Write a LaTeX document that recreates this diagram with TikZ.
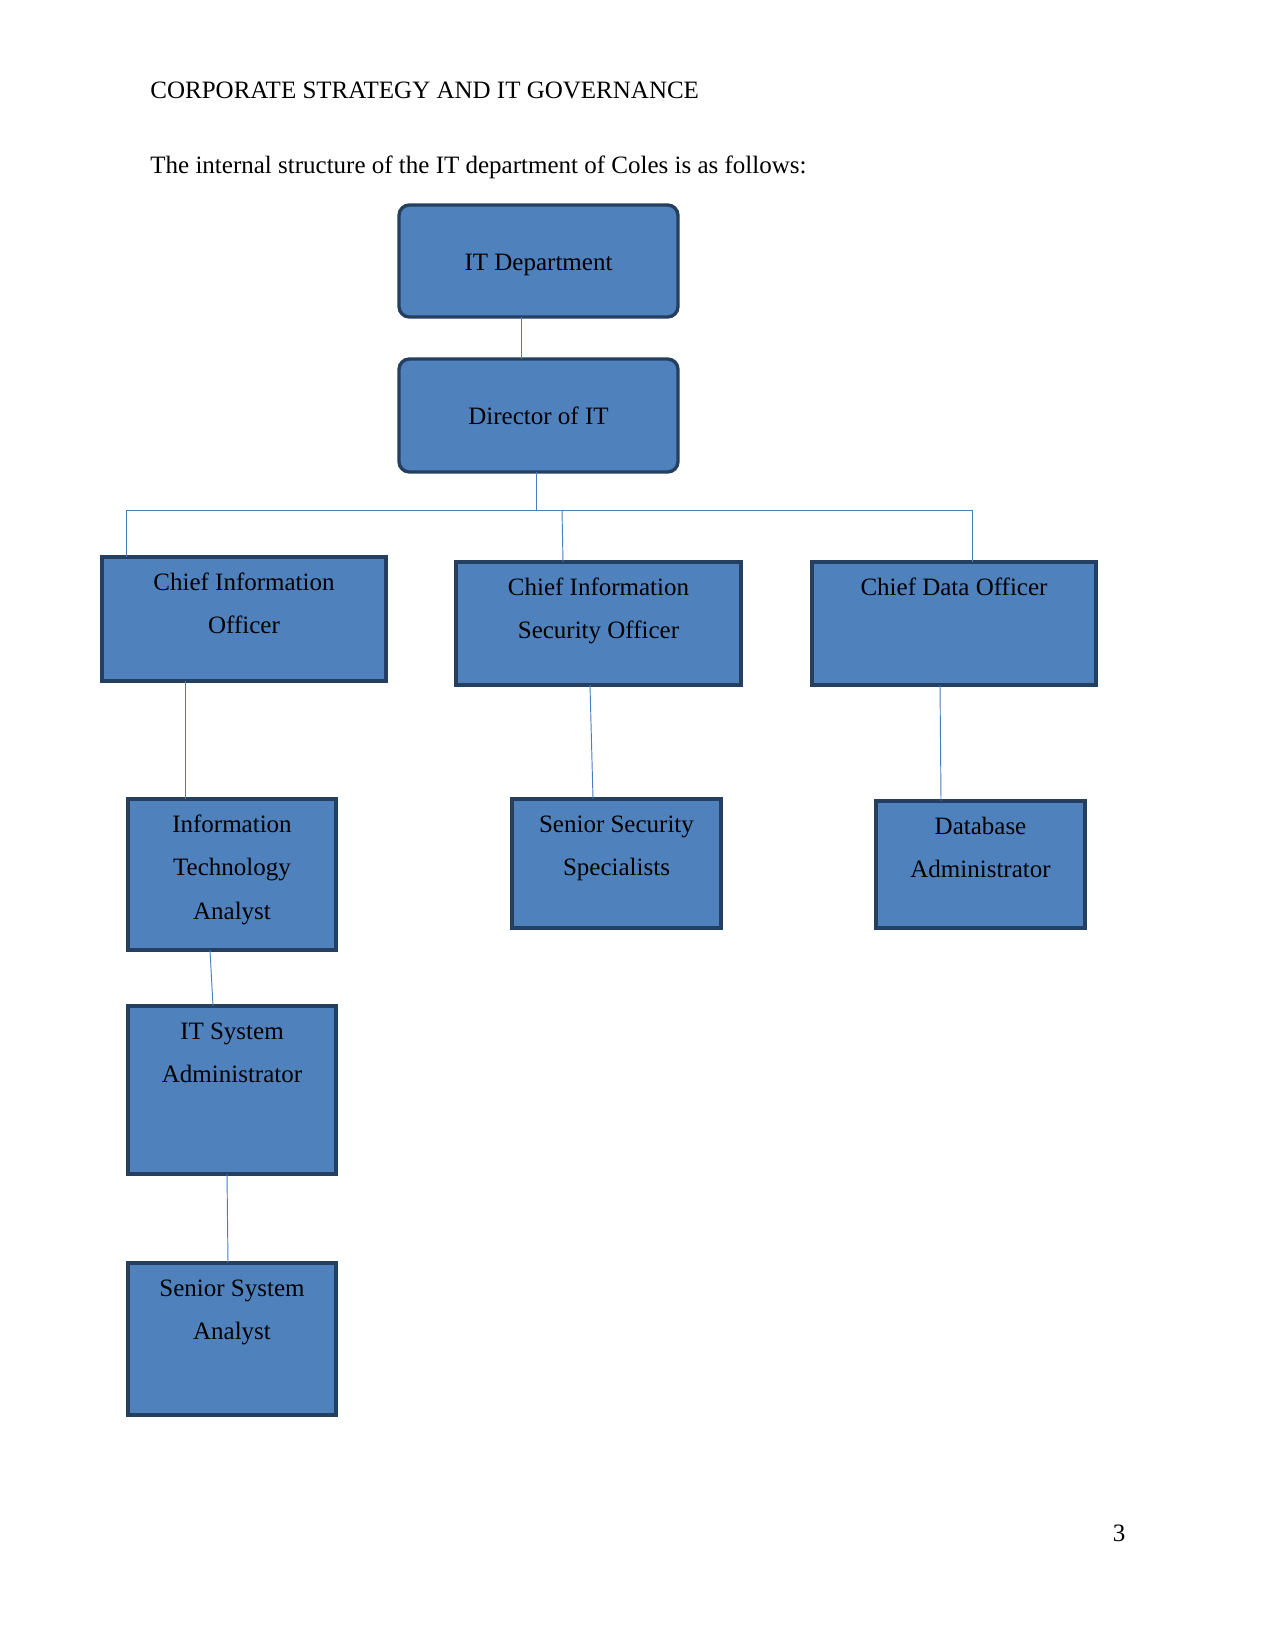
\documentclass[tikz,border=0pt]{standalone}
\usepackage{fontspec}
\setmainfont{Liberation Serif}
\newdimen\pxu \pxu=0.48pt
\definecolor{boxfill}{HTML}{4F81BD}
\definecolor{boxline}{HTML}{243F60}
\definecolor{connline}{HTML}{4A7EBB}
% box content: width, height (px), text
\newcommand{\topbox}[3]{\parbox[c][#2\pxu][t]{#1\pxu}{\fontsize{12}{20.9}\selectfont\centering\rule{0pt}{33\pxu}#3\par}}
\newcommand{\midbox}[4][0]{\parbox[c][#3\pxu][c]{#2\pxu}{\fontsize{12}{20.9}\selectfont\centering\vspace*{#1\pxu}#4\par}}
\tikzset{
  orgbox/.style={draw=boxline, fill=boxfill, line width=1.6pt, inner sep=0pt, outer sep=0pt, anchor=north west},
  roundbox/.style={orgbox, rounded corners=5pt},
  conn/.style={draw=connline, line width=0.45pt},
  plain/.style={inner sep=0pt, anchor=base west, font=\fontsize{12}{14}\selectfont}
}
\begin{document}
\begin{tikzpicture}[x=0.48pt, y=-0.48pt]
\useasboundingbox (0,0) rectangle (1275,1650);
\node[plain] (hdr) at (150,99) {CORPORATE STRATEGY AND IT GOVERNANCE};
\node[plain] (intro) at (150,174) {The internal structure of the IT department of Coles is as follows:};
\node[plain, anchor=base] (pg) at (1119,1541) {3};

\node[roundbox] (itd) at (399,205) {\midbox[8]{279}{112}{IT Department}};
\node[roundbox] (dir) at (399,359) {\midbox{279}{113}{Director of IT}};

\node[orgbox] (cio) at (102,557) {\topbox{284}{124}{Chief Information\\Officer}};
\node[orgbox] (ciso) at (456,562) {\topbox{285}{123}{Chief Information\\Security Officer}};
\node[orgbox] (cdo) at (812,562) {\topbox{284}{123}{Chief Data Officer}};

\node[orgbox] (ita) at (128,799) {\topbox{208}{151}{Information\\Technology\\Analyst}};
\node[orgbox] (sss) at (512,799) {\topbox{209}{129}{Senior Security\\Specialists}};
\node[orgbox] (dba) at (876,801) {\topbox{209}{127}{Database\\Administrator}};

\node[orgbox] (isa) at (128,1006) {\topbox{208}{168}{IT System\\Administrator}};
\node[orgbox] (ssa) at (128,1263) {\topbox{208}{152}{Senior System\\Analyst}};

\coordinate (busL) at (126,510);
\coordinate (busR) at (972,510);
\coordinate (busD) at (536,510);
\coordinate (busM) at (562,510);

\draw[conn] (521,0 |- itd.south) -- (521,0 |- dir.north);
\draw[conn] (536,0 |- dir.south) -- (busD);
\draw[conn] (busL) -- (busR);
\draw[conn] (busL) -- (busL |- cio.north);
\draw[conn] (busM) -- (563,0 |- ciso.north);
\draw[conn] (busR) -- (busR |- cdo.north);

\draw[conn] (185,0 |- cio.south) -- (185,0 |- ita.north);
\draw[conn] (590,0 |- ciso.south) -- (593,0 |- sss.north);
\draw[conn] (940,0 |- cdo.south) -- (941,0 |- dba.north);
\draw[conn] (210,0 |- ita.south) -- (213,0 |- isa.north);
\draw[conn] (227,0 |- isa.south) -- (228,0 |- ssa.north);
\end{tikzpicture}
\end{document}
